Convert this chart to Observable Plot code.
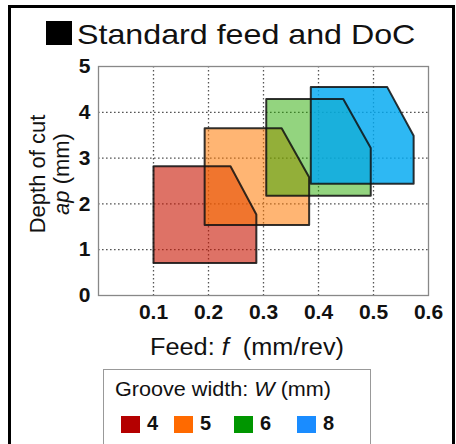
<!DOCTYPE html>
<html>
<head>
<meta charset="utf-8">
<script src="https://cdn.jsdelivr.net/npm/d3@7"></script>
<script src="https://cdn.jsdelivr.net/npm/@observablehq/plot@0.6"></script>
<style>
  body { margin: 0; background: #fff; }
  #wrap { position: relative; width: 456px; height: 444px; overflow: hidden; background: #fff; font-family: "Liberation Sans", Arial, sans-serif; color: #111; }
  #border { position: absolute; left: 8px; top: 5px; width: 441px; height: 460px; border: 3px solid #000; }
  #title { position: absolute; left: 46px; top: 16px; white-space: nowrap; }
  #title .sq { position: absolute; left: 0; top: 5px; width: 26px; height: 24px; background: #000; }
  #title .tx { position: absolute; left: 31px; top: 3px; font-size: 28px; transform: scaleX(1.15); transform-origin: left top; }
  #plot { position: absolute; left: 0; top: 0; }
  #xlabel { position: absolute; left: 150px; top: 334px; font-size: 23px; white-space: nowrap; transform: scaleX(1.1); transform-origin: left top; }
  #ylabel { position: absolute; left: 50px; top: 174px; width: 0; height: 0; }
  #ylabel .in { position: absolute; transform: translate(-50%, -50%) rotate(-90deg); text-align: center; font-size: 22px; line-height: 24px; white-space: nowrap; }
  #legend { position: absolute; left: 103px; top: 369px; width: 266px; height: 100px; border: 1.5px solid #999; background: #fff; }
  #legend .lt { position: absolute; left: 11px; top: 8px; font-size: 20px; white-space: nowrap; transform: scaleX(1.08); transform-origin: left top; }
  #legend .items { position: absolute; left: 17px; top: 44px; white-space: nowrap; }
  #legend .it { position: absolute; top: 0; }
  #legend .sw { position: absolute; left: 0; top: 2px; width: 19px; height: 17px; }
  #legend .lb { position: absolute; left: 26px; top: -2px; font-size: 20px; font-weight: bold; }
</style>
</head>
<body>
<div id="wrap">
  <div id="border"></div>
  <div id="title"><div class="sq"></div><div class="tx">Standard feed and DoC</div></div>
  <div id="plot"></div>
  <div id="xlabel">Feed: <i>f</i>&nbsp; (mm/rev)</div>
  <div id="ylabel"><div class="in">Depth of cut<br><i>ap</i> (mm)</div></div>
  <div id="legend">
    <div class="lt">Groove width: <i>W</i> (mm)</div>
    <div class="items" id="items"></div>
  </div>
</div>
<script>
// Groove widths (mm)
const widths = [4, 5, 6, 8];
// Feed bounds (mm/rev)
const fMin = [0.1, 0.193, 0.305, 0.386];
const fChamfer = [0.24, 0.333, 0.445, 0.525];
const fMax = [0.287, 0.383, 0.495, 0.573];
// Depth of cut bounds (mm)
const apMin = [0.71, 1.54, 2.18, 2.44];
const apMax = [2.82, 3.65, 4.29, 4.55];
const apChamfer = [1.77, 2.58, 3.22, 3.49];
// Colours
const fillColors = ["#c81400", "#ff7800", "#28aa00", "#00a8f0"];
const fillOpacities = [0.6, 0.55, 0.5, 0.82];
const legendColors = ["#b40000", "#ff6a00", "#009600", "#1a8cff"];
// Ticks
const xTicks = [0.1, 0.2, 0.3, 0.4, 0.5, 0.6];
const xTickLabels = ["0.1", "0.2", "0.3", "0.4", "0.5", "0.6"];
const yTicks = [0, 1, 2, 3, 4, 5];
const yTickLabels = ["0", "1", "2", "3", "4", "5"];
const xGrid = [0.1, 0.2, 0.3, 0.4, 0.5];
const yGrid = [1, 2, 3, 4];

const polys = widths.map((w, i) => [
  {w, f: fMin[i], ap: apMin[i]},
  {w, f: fMin[i], ap: apMax[i]},
  {w, f: fChamfer[i], ap: apMax[i]},
  {w, f: fMax[i], ap: apChamfer[i]},
  {w, f: fMax[i], ap: apMin[i]}
]);

const dash = "1.6,2.4";
const chart = Plot.plot({
  width: 456,
  height: 340,
  marginLeft: 98,
  marginRight: 28,
  marginTop: 66,
  marginBottom: 45,
  style: {fontFamily: "Liberation Sans, Arial, sans-serif", fontSize: "21px", fontWeight: "bold", color: "#111", background: "transparent"},
  x: {domain: [0, 0.6]},
  y: {domain: [0, 5]},
  marks: [
    Plot.ruleX(xGrid, {stroke: "#555", strokeWidth: 1.3, strokeDasharray: dash}),
    Plot.ruleY(yGrid, {stroke: "#555", strokeWidth: 1.3, strokeDasharray: dash}),
    ...polys.map((p, i) => Plot.line(p, {
      x: "f", y: "ap", curve: "linear-closed",
      fill: fillColors[i], fillOpacity: fillOpacities[i], stroke: "none"
    })),
    ...polys.map((p, i) => Plot.line(p, {
      x: "f", y: "ap", curve: "linear-closed",
      stroke: "#111", strokeWidth: 2, strokeOpacity: 0.85
    })),
    Plot.frame({stroke: "#888", strokeWidth: 1.3}),
    Plot.axisX({ticks: xTicks, tickSize: 0, tickPadding: 9, label: null, fontSize: 21, tickFormat: (d, i) => xTickLabels[i]}),
    Plot.axisY({ticks: yTicks, tickSize: 0, tickPadding: 8, label: null, fontSize: 21, tickFormat: (d, i) => yTickLabels[i]})
  ]
});
document.getElementById("plot").appendChild(chart);

const items = document.getElementById("items");
const offsets = [0, 53, 113, 176];
widths.forEach((w, i) => {
  const d = document.createElement("div");
  d.className = "it";
  d.style.left = offsets[i] + "px";
  d.innerHTML = `<div class="sw" style="background:${legendColors[i]}"></div><div class="lb">${w}</div>`;
  items.appendChild(d);
});
</script>
</body>
</html>
